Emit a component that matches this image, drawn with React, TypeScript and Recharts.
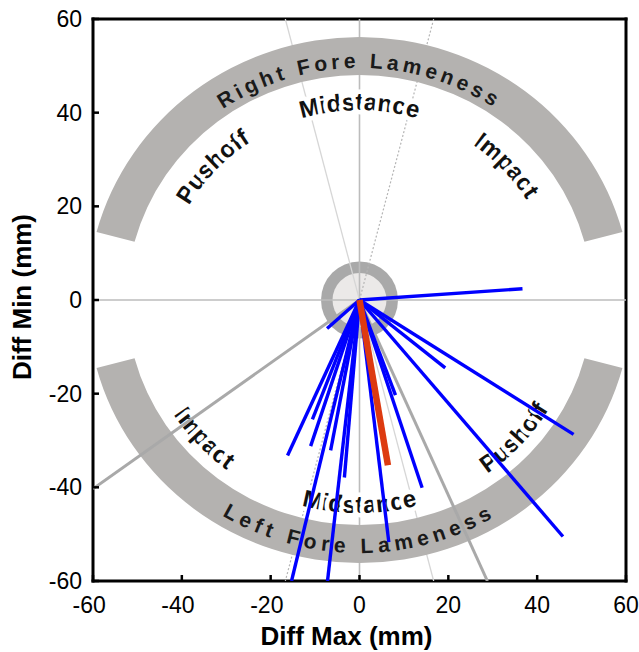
import React from 'react';
import { ScatterChart, Scatter, XAxis, YAxis } from 'recharts';

// axis ticks (mm)
const axisTicks = [-60, -40, -20, 0, 20, 40, 60];

// end points of the per-stride vectors (start is the origin)
const strideX = [36.7, -7.3, 19.3, 48.2, 45.8, 14.1, 8.1, 6.6, -16.2, -10.6, -11.0, -6.5, -3.4, -15.3, -7.2];
const strideY = [2.4, -6.1, -14.5, -28.7, -50.5, -40.1, -20.3, -51.7, -33.2, -25.5, -31.2, -32.1, -37.9, -60, -60];

// mean vector
const meanX = [6.4];
const meanY = [-35.3];

// thick gray reference vectors
const refX = [-60, 28.8];
const refY = [-40.3, -60];

// thin guide lines through the origin (solid, dotted)
const guideStartX = [-16.7, 16.7];
const guideStartY = [60, 60];
const guideEndX = [16.7, -16.7];
const guideEndY = [-60, -60];

const bandLabels = ['Right Fore Lameness', 'Left Fore Lameness'];
const upperLabels = ['Pushoff', 'Midstance', 'Impact'];
const lowerLabels = ['Impact', 'Midstance', 'Pushoff'];

const FONT = '"Liberation Sans", Arial, Helvetica, sans-serif';
const TICK_LEN = 6;
const SX = 1.035; // arcs are a touch wider than tall

const noDot = () => null;

const seg = (x1: number, y1: number, x2: number, y2: number) => [
  { x: x1, y: y1 },
  { x: x2, y: y2 },
];

function halfArc(cx: number, cy: number, r: number, upper: boolean) {
  const rx = r * SX;
  return `M ${cx - rx} ${cy} A ${rx} ${r} 0 0 ${upper ? 1 : 0} ${cx + rx} ${cy}`;
}

function band(cx: number, cy: number, rIn: number, rOut: number, upper: boolean, endDeg: number) {
  const c = Math.cos((endDeg * Math.PI) / 180);
  const s = Math.sin((endDeg * Math.PI) / 180);
  const sg = upper ? -1 : 1;
  const ox = rOut * SX;
  const ix = rIn * SX;
  return (
    `M ${cx - ox * c} ${cy + sg * rOut * s} ` +
    `A ${ox} ${rOut} 0 0 ${upper ? 1 : 0} ${cx + ox * c} ${cy + sg * rOut * s} ` +
    `L ${cx + ix * c} ${cy + sg * rIn * s} ` +
    `A ${ix} ${rIn} 0 0 ${upper ? 0 : 1} ${cx - ix * c} ${cy + sg * rIn * s} Z`
  );
}

const HubShape = (props: any) => {
  const { cx, cy } = props;
  return (
    <g>
      <circle cx={cx} cy={cy} r={38.5} fill="#a9a9a9" />
      <circle cx={cx} cy={cy} r={27} fill="#ebe9e8" />
    </g>
  );
};

const labelStyle = {
  fontSize: 24,
  fontWeight: 'bold' as const,
  fontFamily: FONT,
  fill: '#111',
};

const BandShape = (props: any) => {
  const { cx, cy } = props;
  const upperOffsets = ['23.7%', '50%', '76.2%'];
  const lowerOffsets = ['23.5%', '50%', '76.5%'];
  return (
    <g>
      <defs>
        <path id="arcUpIn" d={halfArc(cx, cy, 190, true)} />
        <path id="arcUpBand" d={halfArc(cx, cy, 232, true)} />
        <path id="arcLoIn" d={halfArc(cx, cy, 213, false)} />
        <path id="arcLoBand" d={halfArc(cx, cy, 253, false)} />
      </defs>
      <path d={band(cx, cy, 225, 263, true, 15)} fill="#b4b2b0" />
      <path d={band(cx, cy, 225, 263, false, 15)} fill="#b4b2b0" />
      <text fontSize={21} fontWeight="bold" fontFamily={FONT} fill="#1a1a1a" letterSpacing={4}>
        <textPath href="#arcUpBand" startOffset="50%" textAnchor="middle">
          {bandLabels[0]}
        </textPath>
      </text>
      <text fontSize={21} fontWeight="bold" fontFamily={FONT} fill="#1a1a1a" letterSpacing={5}>
        <textPath href="#arcLoBand" startOffset="50%" textAnchor="middle">
          {bandLabels[1]}
        </textPath>
      </text>
      {upperLabels.map((t, i) => (
        <text key={'u' + i} {...labelStyle} stroke="#fff" strokeWidth={9} strokeLinejoin="round" paintOrder="stroke">
          <textPath href="#arcUpIn" startOffset={upperOffsets[i]} textAnchor="middle">
            {t}
          </textPath>
        </text>
      ))}
      {lowerLabels.map((t, i) => (
        <text key={'l' + i} {...labelStyle} stroke="#fff" strokeWidth={9} strokeLinejoin="round" paintOrder="stroke">
          <textPath href="#arcLoIn" startOffset={lowerOffsets[i]} textAnchor="middle">
            {t}
          </textPath>
        </text>
      ))}
    </g>
  );
};

const digitHalf = (v: number) => (String(Math.abs(v)).length * 0.556 * 23) / 2;

const TickBottom = (props: any) => {
  const { x, y, payload } = props;
  return (
    <g>
      <line x1={x} y1={y} x2={x} y2={y - TICK_LEN} stroke="#000" strokeWidth={2.5} />
      <text x={x + digitHalf(payload.value)} y={y + 32} textAnchor="end" fontSize={23} fontFamily={FONT} fill="#000">
        {payload.value}
      </text>
    </g>
  );
};

const TickTop = (props: any) => {
  const { x, y } = props;
  return <line x1={x} y1={y} x2={x} y2={y + TICK_LEN} stroke="#000" strokeWidth={2.5} />;
};

const TickLeft = (props: any) => {
  const { x, y, payload } = props;
  return (
    <g>
      <line x1={x} y1={y} x2={x + TICK_LEN} y2={y} stroke="#000" strokeWidth={2.5} />
      <text x={x - 11} y={y + 8} textAnchor="end" fontSize={23} fontFamily={FONT} fill="#000">
        {payload.value}
      </text>
    </g>
  );
};

const TickRight = (props: any) => {
  const { x, y } = props;
  return <line x1={x} y1={y} x2={x - TICK_LEN} y2={y} stroke="#000" strokeWidth={2.5} />;
};

const XTitle = (props: any) => {
  const vb = props.viewBox || { x: 93, y: 581, width: 533, height: 71 };
  return (
    <text x={vb.x + vb.width / 2 - 13} y={vb.y + 64} textAnchor="middle" fontSize={26} fontWeight="bold" fontFamily={FONT} fill="#000">
      Diff Max (mm)
    </text>
  );
};

const YTitle = (props: any) => {
  const vb = props.viewBox || { x: 0, y: 19, width: 93, height: 562 };
  const tx = vb.x + 31;
  const ty = vb.y + vb.height / 2 - 3;
  return (
    <text x={tx} y={ty} transform={`rotate(-90, ${tx}, ${ty})`} textAnchor="middle" fontSize={26} fontWeight="bold" fontFamily={FONT} fill="#000">
      Diff Min (mm)
    </text>
  );
};

const axisLine = { stroke: '#000', strokeWidth: 3, strokeLinecap: 'square' as const };

export default function App() {
  return (
    <div style={{ position: 'absolute', left: 0, top: 0, width: 639, height: 652, background: '#fff' }}>
      <ScatterChart width={639} height={652} margin={{ top: 0, right: 0, bottom: 0, left: 0 }}>
        <XAxis
          type="number"
          dataKey="x"
          domain={[-60, 60]}
          ticks={axisTicks}
          interval={0}
          allowDataOverflow
          height={71}
          tickSize={0}
          tickMargin={0}
          axisLine={axisLine}
          tick={<TickBottom />}
          label={<XTitle />}
        />
        <XAxis
          xAxisId="top"
          orientation="top"
          type="number"
          dataKey="x"
          domain={[-60, 60]}
          ticks={axisTicks}
          interval={0}
          height={19}
          tickSize={0}
          tickMargin={0}
          axisLine={axisLine}
          tick={<TickTop />}
        />
        <YAxis
          type="number"
          dataKey="y"
          domain={[-60, 60]}
          ticks={axisTicks}
          interval={0}
          allowDataOverflow
          width={93}
          tickSize={0}
          tickMargin={0}
          axisLine={axisLine}
          tick={<TickLeft />}
          label={<YTitle />}
        />
        <YAxis
          yAxisId="right"
          orientation="right"
          type="number"
          dataKey="y"
          domain={[-60, 60]}
          ticks={axisTicks}
          interval={0}
          width={13}
          tickSize={0}
          tickMargin={0}
          axisLine={axisLine}
          tick={<TickRight />}
        />

        <Scatter data={[{ x: 0, y: 0 }]} shape={HubShape} isAnimationActive={false} />

        <Scatter data={seg(-60, 0, 60, 0)} line={{ stroke: '#bcbcbc', strokeWidth: 1.6 }} shape={noDot} isAnimationActive={false} />
        <Scatter data={seg(0, -60, 0, 60)} line={{ stroke: '#bcbcbc', strokeWidth: 1.6 }} shape={noDot} isAnimationActive={false} />
        <Scatter
          data={seg(guideStartX[0], guideStartY[0], guideEndX[0], guideEndY[0])}
          line={{ stroke: '#d6d6d6', strokeWidth: 1.3 }}
          shape={noDot}
          isAnimationActive={false}
        />
        <Scatter
          data={seg(guideStartX[1], guideStartY[1], guideEndX[1], guideEndY[1])}
          line={{ stroke: '#b5b5b5', strokeWidth: 1.2, strokeDasharray: '2 2' }}
          shape={noDot}
          isAnimationActive={false}
        />

        <Scatter data={[{ x: 0, y: 0 }]} shape={BandShape} isAnimationActive={false} />

        {refX.map((rx, i) => (
          <Scatter
            key={'ref' + i}
            data={seg(0, 0, rx, refY[i])}
            line={{ stroke: '#a9a9a9', strokeWidth: 3 }}
            shape={noDot}
            isAnimationActive={false}
          />
        ))}

        {strideX.map((sx, i) => (
          <Scatter
            key={'s' + i}
            data={seg(0, 0, sx, strideY[i])}
            line={{ stroke: '#0000ff', strokeWidth: 3.4 }}
            shape={noDot}
            isAnimationActive={false}
          />
        ))}

        <Scatter
          data={seg(0, 0, meanX[0], meanY[0])}
          line={{ stroke: '#dd3a10', strokeWidth: 6.5 }}
          shape={noDot}
          isAnimationActive={false}
        />
      </ScatterChart>
    </div>
  );
}
